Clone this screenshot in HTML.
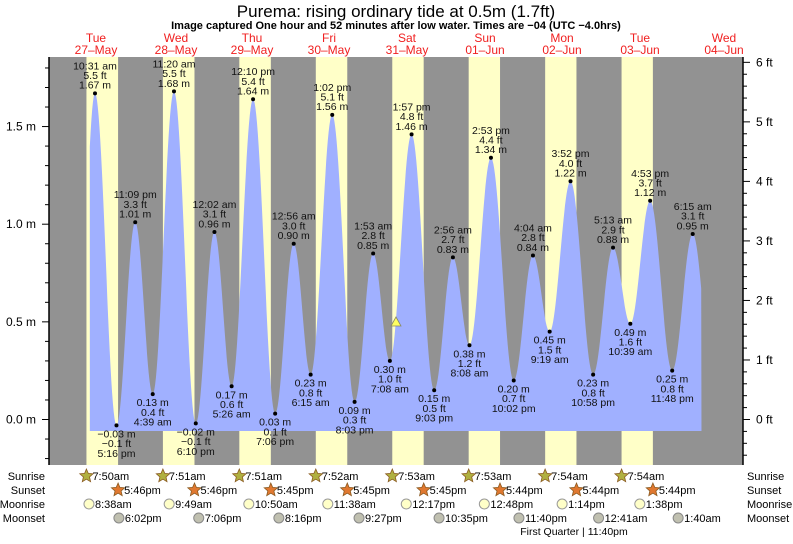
<!DOCTYPE html>
<html><head><meta charset="utf-8"><style>
body{margin:0;background:#fff;width:793px;height:539px;overflow:hidden}
svg{font-family:"Liberation Sans",sans-serif}
</style></head><body>
<svg id="s" width="793" height="539" xmlns="http://www.w3.org/2000/svg"></svg>
<script>
const S=document.getElementById('s');let h='';
const X=t=>61.5+3.184*t, Y=m=>419.5-195.3*m;
const L=49,R=743,T=57,B=465;
h+=`<rect x="${L}" y="${T}" width="${R-L}" height="${B-T}" fill="#929292"/>`;
const sr=['7:50','7:51','7:51','7:52','7:53','7:53','7:54','7:54'],ss=['5:46','5:46','5:45','5:45','5:45','5:44','5:44','5:44'];
const hm=s=>{let[a,b]=s.split(':').map(Number);return a+b/60};
for(let d=0;d<8;d++){let a=X(d*24+hm(sr[d])),b=X(d*24+12+hm(ss[d]));h+=`<rect x="${a}" y="${T}" width="${b-a}" height="${B-T}" fill="#ffffc8"/>`;}
const E=[[10.52,1.67,'10:31 am','5.5 ft'],[17.27,-0.03,'5:16 pm','−0.1 ft'],[23.15,1.01,'11:09 pm','3.3 ft'],[28.65,0.13,'4:39 am','0.4 ft'],[35.33,1.68,'11:20 am','5.5 ft'],[42.17,-0.02,'6:10 pm','−0.1 ft'],[48.03,0.96,'12:02 am','3.1 ft'],[53.43,0.17,'5:26 am','0.6 ft'],[60.17,1.64,'12:10 pm','5.4 ft'],[67.1,0.03,'7:06 pm','0.1 ft'],[72.93,0.90,'12:56 am','3.0 ft'],[78.25,0.23,'6:15 am','0.8 ft'],[85.03,1.56,'1:02 pm','5.1 ft'],[92.05,0.09,'8:03 pm','0.3 ft'],[97.88,0.85,'1:53 am','2.8 ft'],[103.13,0.30,'7:08 am','1.0 ft'],[109.95,1.46,'1:57 pm','4.8 ft'],[117.05,0.15,'9:03 pm','0.5 ft'],[122.93,0.83,'2:56 am','2.7 ft'],[128.13,0.38,'8:08 am','1.2 ft'],[134.88,1.34,'2:53 pm','4.4 ft'],[142.03,0.20,'10:02 pm','0.7 ft'],[148.07,0.84,'4:04 am','2.8 ft'],[153.32,0.45,'9:19 am','1.5 ft'],[159.87,1.22,'3:52 pm','4.0 ft'],[166.97,0.23,'10:58 pm','0.8 ft'],[173.22,0.88,'5:13 am','2.9 ft'],[178.65,0.49,'10:39 am','1.6 ft'],[184.88,1.12,'4:53 pm','3.7 ft'],[191.8,0.25,'11:48 pm','0.8 ft'],[198.25,0.95,'6:15 am','3.1 ft']];
const P=[[4.3,-0.06],...E.map(e=>[e[0],e[1]]),[204.6,0.2]];
function H(t){for(let i=0;i<P.length-1;i++){if(t>=P[i][0]&&t<=P[i+1][0]){let f=(t-P[i][0])/(P[i+1][0]-P[i][0]);return P[i][1]+(P[i+1][1]-P[i][1])*(1-Math.cos(Math.PI*f))/2;}}return 0}
let pts=`${X(8.9)},431 `;for(let t=8.9;t<=201;t+=0.25)pts+=`${X(t).toFixed(1)},${Y(H(t)).toFixed(1)} `;pts+=`${X(201)},431`;
h+=`<polygon points="${pts}" fill="#a0b0ff"/>`;
E.forEach((e,i)=>{let x=X(e[0]),y=Y(e[1]),hi=i%2==0;h+=`<circle cx="${x}" cy="${y}" r="2" fill="#000"/>`;
let ls=hi?[e[2],e[3],e[1].toFixed(2)+' m']:[(e[1]<0?'−'+Math.abs(e[1]).toFixed(2):e[1].toFixed(2))+' m',e[3],e[2]];
ls.forEach((s,k)=>{let yy=hi?y-24+k*9.7:y+12+k*9.7;h+=`<text x="${x}" y="${yy}" font-size="10.5" text-anchor="middle" fill="#111">${s}</text>`;});});
h+=`<polygon points="396,317 391,326 401,326" fill="#ffff60" stroke="#886" stroke-width="0.8"/>`;
h+=`<line x1="${L}" y1="${T}" x2="${L}" y2="${B}" stroke="#000" stroke-width="1.5"/><line x1="${R}" y1="${T}" x2="${R}" y2="${B}" stroke="#000" stroke-width="1.5"/>`;
for(let k=-2;k<=18;k++){let y=Y(k/10);if(y<T||y>B)continue;let mj=k%5==0;h+=`<line x1="${L-(mj?7:4)}" y1="${y}" x2="${L}" y2="${y}" stroke="#000"/>`;if(mj)h+=`<text x="36" y="${y+4}" font-size="12" text-anchor="end">${(k/10).toFixed(1)} m</text>`;}
for(let k=-5;k<=30;k++){let y=Y(k*0.2*0.3048);if(y<T||y>B)continue;let mj=k%5==0;h+=`<line x1="${R}" y1="${y}" x2="${R+(mj?7:4)}" y2="${y}" stroke="#000"/>`;if(mj)h+=`<text x="756" y="${y+4}" font-size="12">${k/5} ft</text>`;}
h+=`<text x="396" y="17" font-size="17" text-anchor="middle">Purema: rising  ordinary tide at 0.5m (1.7ft)</text>`;
h+=`<text x="396" y="29" font-size="11" font-weight="bold" text-anchor="middle">Image captured One hour and 52 minutes after low water. Times are −04 (UTC −4.0hrs)</text>`;
const dl=[['Tue','27–May',96],['Wed','28–May',176],['Thu','29–May',252],['Fri','30–May',329],['Sat','31–May',407],['Sun','01–Jun',485],['Mon','02–Jun',562],['Tue','03–Jun',640],['Wed','04–Jun',724]];
dl.forEach(d=>{h+=`<text x="${d[2]}" y="42" font-size="12" fill="#f02020" text-anchor="middle">${d[0]}</text><text x="${d[2]}" y="54" font-size="12" fill="#f02020" text-anchor="middle">${d[1]}</text>`;});
['Sunrise','Sunset','Moonrise','Moonset'].forEach((n,i)=>{let y=480+i*14;h+=`<text x="45" y="${y}" font-size="11" text-anchor="end">${n}</text><text x="747" y="${y}" font-size="11">${n}</text>`;});
function star(x,y,c){let p='';for(let i=0;i<10;i++){let r=i%2?3.2:7,a=-Math.PI/2+i*Math.PI/5;p+=`${(x+r*Math.cos(a)).toFixed(1)},${(y+r*Math.sin(a)).toFixed(1)} `;}return `<polygon points="${p}" fill="${c}" stroke="#8a5a20" stroke-width="0.8"/>`;}
const lab=(x,y,s)=>`<text x="${x+6}" y="${y+4}" font-size="11">${s}</text>`;
for(let d=0;d<8;d++){let x=X(d*24+hm(sr[d]));h+=star(x,476,'#b0b040')+lab(x,476,sr[d]+'am');x=X(d*24+12+hm(ss[d]));h+=star(x,490,'#e07830')+lab(x,490,ss[d]+'pm');}
const mr=[[8.63,'8:38am'],[33.82,'9:49am'],[58.83,'10:50am'],[83.63,'11:38am'],[108.28,'12:17pm'],[132.8,'12:48pm'],[157.23,'1:14pm'],[181.63,'1:38pm']];
mr.forEach(m=>{let x=X(m[0]);h+=`<circle cx="${x}" cy="504" r="5" fill="#ffffc8" stroke="#999"/>`+lab(x,504,m[1]);});
const ms=[[18.03,'6:02pm'],[43.1,'7:06pm'],[68.27,'8:16pm'],[93.45,'9:27pm'],[118.58,'10:35pm'],[143.67,'11:40pm'],[168.68,'12:41am'],[193.67,'1:40am']];
ms.forEach(m=>{let x=X(m[0]);h+=`<circle cx="${x}" cy="518" r="5" fill="#c0c0b0" stroke="#888"/>`+lab(x,518,m[1]);});
h+=`<text x="574" y="535" font-size="10.5" text-anchor="middle">First Quarter | 11:40pm</text>`;
S.innerHTML=h;
</script>
</body></html>
